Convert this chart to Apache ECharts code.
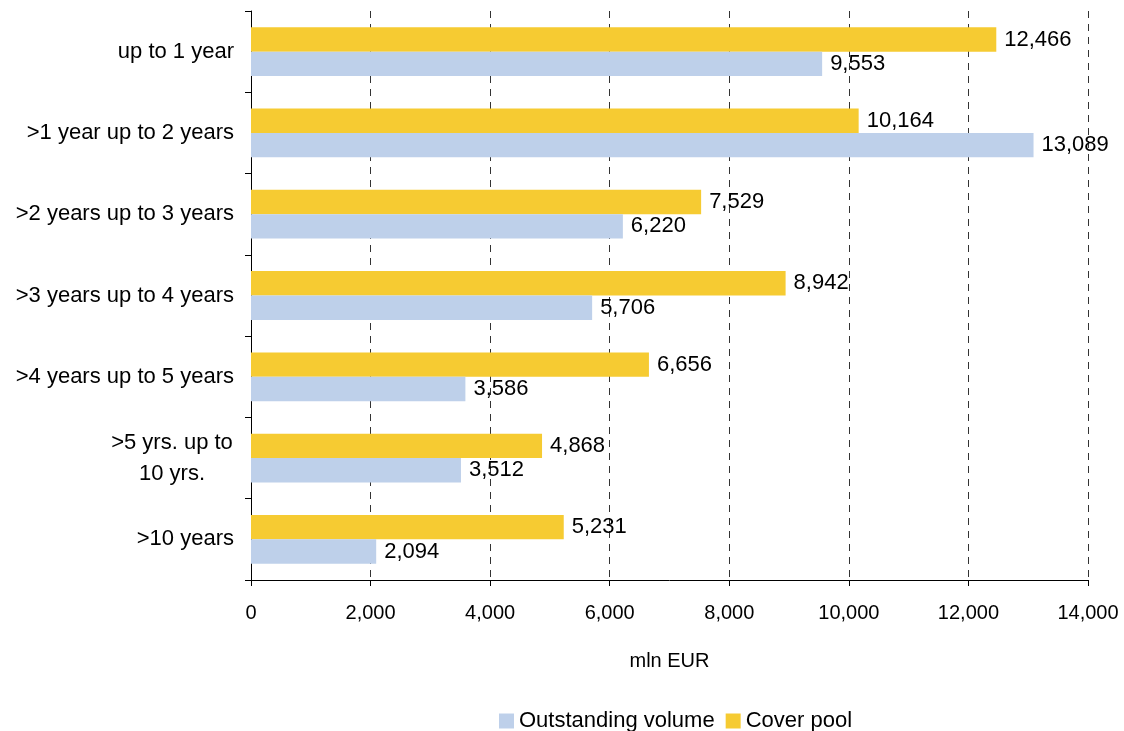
<!DOCTYPE html>
<html><head><meta charset="utf-8">
<script src="https://cdn.jsdelivr.net/npm/echarts@6/dist/echarts.min.js"></script>
<style>html,body{margin:0;padding:0;background:#fff}#c{width:1124px;height:731px}</style>
</head><body><div id="c"></div>
<script>
const categories = ['up to 1 year', '>1 year up to 2 years', '>2 years up to 3 years', '>3 years up to 4 years', '>4 years up to 5 years', '>5 yrs. up to\n10 yrs.', '>10 years'];
const outstandingVolume = [9553, 13089, 6220, 5706, 3586, 3512, 2094];
const coverPool = [12466, 10164, 7529, 8942, 6656, 4868, 5231];
const xTicks = [0, 2000, 4000, 6000, 8000, 10000, 12000, 14000];

const fmt = v => v.toLocaleString('en-US');
const font = 'Liberation Sans, Arial, sans-serif';
const FS = 20, FL = 22;
const chart = echarts.init(document.getElementById('c'));
chart.setOption({
  animation: false,
  textStyle: {fontFamily: font},
  grid: {left: 251, right: 36, top: 11, bottom: 151, containLabel: false},
  legend: {
    data: ['Outstanding volume', 'Cover pool'],
    top: 705, left: 494, itemWidth: 15, itemHeight: 15, itemGap: 11,
    icon: 'rect',
    textStyle: {fontSize: FL, color: '#000', fontFamily: font}
  },
  xAxis: {
    type: 'value', min: xTicks[0], max: xTicks[xTicks.length - 1], interval: 2000,
    name: 'mln EUR', nameLocation: 'middle', nameGap: 71,
    nameTextStyle: {fontSize: FS, color: '#000', fontFamily: font},
    axisLine: {show: true, lineStyle: {color: '#000', width: 1}},
    axisTick: {show: true, length: 6, lineStyle: {color: '#000'}},
    axisLabel: {fontSize: FS, color: '#000', margin: 23, formatter: v => fmt(v), fontFamily: font},
    splitLine: {show: true, lineStyle: {color: '#333', type: [7, 6], width: 1}}
  },
  yAxis: {
    type: 'category', data: categories, inverse: true,
    axisLine: {show: true, lineStyle: {color: '#000', width: 1}},
    axisTick: {show: true, length: 6, lineStyle: {color: '#000'}},
    axisLabel: {fontSize: FL, color: '#000', margin: 17, align: 'right', lineHeight: 31, fontFamily: font,
      formatter: v => v.indexOf('\n') >= 0 ? v.split('\n').map(s => '{c|' + s + '}').join('\n') : v,
      rich: {c: {fontSize: FL, color: '#000', fontFamily: font, width: 124, align: 'center', lineHeight: 31}}},
    splitLine: {show: false}
  },
  series: [
    {
      name: 'Cover pool', type: 'bar', data: coverPool, barCategoryGap: '40%', barGap: '0%',
      itemStyle: {color: '#F6CB32'},
      label: {show: true, position: 'right', distance: 8, color: '#000', fontSize: FL, fontFamily: font, formatter: p => fmt(p.value)}
    },
    {
      name: 'Outstanding volume', type: 'bar', data: outstandingVolume, barCategoryGap: '40%', barGap: '0%',
      itemStyle: {color: '#BED0EA'},
      label: {show: true, position: 'right', distance: 8, color: '#000', fontSize: FL, fontFamily: font, formatter: p => fmt(p.value)}
    }
  ]
});
</script></body></html>
